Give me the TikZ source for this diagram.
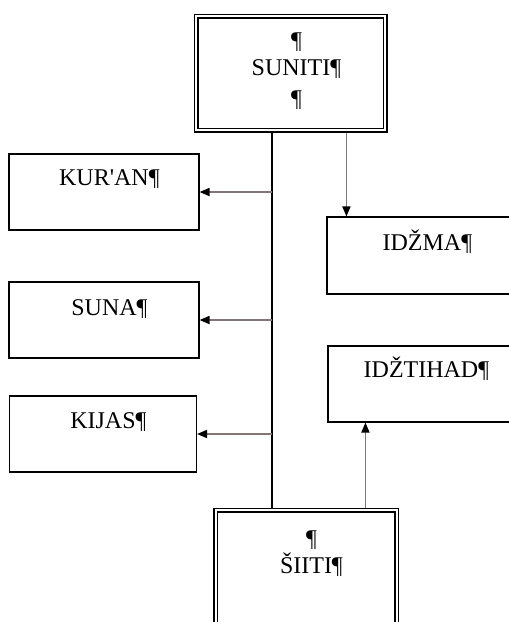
\documentclass[tikz,border=0pt]{standalone}
\usepackage{fontspec}
\newfontfamily\boxfont{Liberation Serif}
\usetikzlibrary{arrows.meta}

\definecolor{arrowgray}{RGB}{130,118,118}

\tikzset{
  box/.style={draw, line width=1.1pt, minimum width=190pt, minimum height=76pt, inner sep=0pt},
  bigbox/.style={draw, line width=1.3pt, double, double distance=2.4pt, inner sep=0pt, outer sep=2.5pt},
  lbl/.style={anchor=base, inner sep=0pt, align=center, font=\boxfont\fontsize{24}{27.5}\selectfont},
  spine/.style={line width=1.1pt},
  branch/.style={line width=1.7pt, draw=arrowgray, -{Triangle[length=10pt,width=8pt,color=black]}}
}

\begin{document}
\begin{tikzpicture}[x=1pt, y=-1pt]
  \useasboundingbox (0,0) rectangle (509,622);

  % boxes
  \node[bigbox, minimum width=189pt, minimum height=114pt] (suniti) at (290.5,73) {};
  \node[box] (kuran) at (104,192) {};
  \node[box] (suna) at (104,320) {};
  \node[box, minimum width=187pt] (kijas) at (103,434) {};
  \node[box, minimum height=77pt] (idzma) at (422,255.5) {};
  \node[box] (idztihad) at (423,384) {};
  \node[bigbox, minimum width=181pt, minimum height=120pt] (siiti) at (306.3,570) {};

  % texts (base = last line)
  \node[lbl] (sunitiT) at (291,106) {\rlap{¶}\\[-1pt]SUNITI\rlap{¶}\\[3.5pt]\rlap{¶}};
  \node[lbl] (kuranT) at (104,185) {KUR'AN\rlap{¶}};
  \node[lbl] (sunaT) at (104,315) {SUNA\rlap{¶}};
  \node[lbl] (kijasT) at (103,428) {KIJAS\rlap{¶}};
  \node[lbl] (idzmaT) at (422,250) {IDŽMA\rlap{¶}};
  \node[lbl] (idztihadT) at (421,377) {IDŽTIHAD\rlap{¶}};
  \node[lbl] (siitiT) at (306,573) {\rlap{¶}\\[-0.5pt]ŠIITI\rlap{¶}};

  % connectors
  \coordinate (trunk) at (272,0);
  \draw[spine] (suniti.south -| trunk) -- (siiti.north -| trunk);
  \foreach \b in {kuran,suna,kijas}
    \draw[branch] (\b.east -| trunk) -- (\b.east);

  \coordinate (idzmaIn) at ([xshift=20pt]idzma.north west);
  \draw[branch] (suniti.south -| idzmaIn) -- (idzmaIn);
  \coordinate (idztihadIn) at ([xshift=38pt]idztihad.south west);
  \draw[branch] (siiti.north -| idztihadIn) -- (idztihadIn);
\end{tikzpicture}
\end{document}
